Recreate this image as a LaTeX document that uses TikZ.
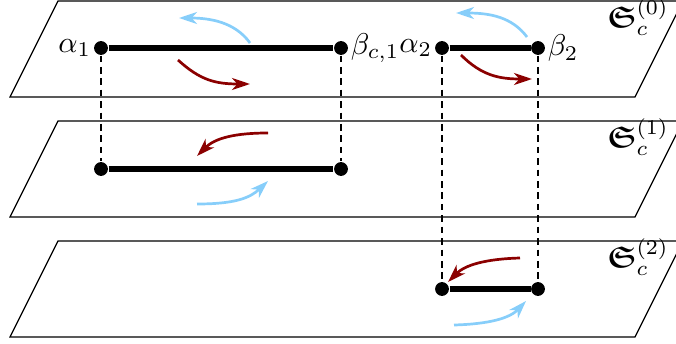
\documentclass[tikz,border=0pt]{standalone}
\usepackage{amsmath,amssymb}
\usetikzlibrary{arrows.meta}
\definecolor{flowred}{RGB}{139,0,0}
\definecolor{flowblue}{RGB}{135,206,250}
\tikzset{
  dot/.style={circle,fill,inner sep=0pt,minimum size=4.6pt},
  cut/.style={line width=1.8pt},
  lift/.style={dash pattern=on 2.2pt off 1.6pt},
  flow/.style={line width=0.9pt,-{Stealth[length=6pt,width=4pt,inset=1.8pt]}},
  every label/.style={inner sep=0.6pt},
}
\begin{document}
\begin{tikzpicture}[x=0.333pt,y=-0.333pt]
  \useasboundingbox (0,0) rectangle (676,344);
  \clip (0,0) rectangle (676,344);
  % sheets
  \foreach \k in {0,1,2}
    \draw[shift={(0,120*\k)}] (58,1) -- (683,1) -- (635,97) -- (10,97) -- cycle
      (638,17) node (S\k) {$\boldsymbol{\mathfrak{S}}_c^{(\k)}$};
  % cuts
  \node[dot,label=left:$\alpha_1$] (a1) at (101,48) {};
  \node[dot,label=right:$\beta_{c,1}$] (b1) at (341,48) {};
  \node[dot,label=left:$\alpha_2$] (a2) at (442,48) {};
  \node[dot,label=right:$\beta_2$] (b2) at (538,48) {};
  \node[dot] (a1m) at (101,169) {};
  \node[dot] (b1m) at (341,169) {};
  \node[dot] (a2b) at (442,289) {};
  \node[dot] (b2b) at (538,289) {};
  \draw[lift] (a1) -- (a1m);
  \draw[lift] (b1) -- (b1m);
  \draw[lift] (a2) -- (a2b);
  \draw[lift] (b2) -- (b2b);
  \draw[cut] (a1) -- (b1);
  \draw[cut] (a2) -- (b2);
  \draw[cut] (a1m) -- (b1m);
  \draw[cut] (a2b) -- (b2b);
  % flows
  \draw[flow,flowblue] (250,43) .. controls (235,22) and (210,18) .. (179,18);
  \draw[flow,flowred] (178,60) .. controls (200,80) and (215,84) .. (250,84);
  \draw[flow,flowblue] (527,37) .. controls (512,17) and (490,13) .. (456,13);
  \draw[flow,flowred] (461,55) .. controls (482,76) and (500,79) .. (532,79);
  \draw[flow,flowred] (268,133) .. controls (235,133) and (215,138) .. (197,156);
  \draw[flow,flowblue] (197,204) .. controls (235,204) and (250,198) .. (268,181);
  \draw[flow,flowred] (520,258) .. controls (485,259) and (465,265) .. (448,282);
  \draw[flow,flowblue] (454,325) .. controls (490,324) and (510,318) .. (526,301);
\end{tikzpicture}
\end{document}
